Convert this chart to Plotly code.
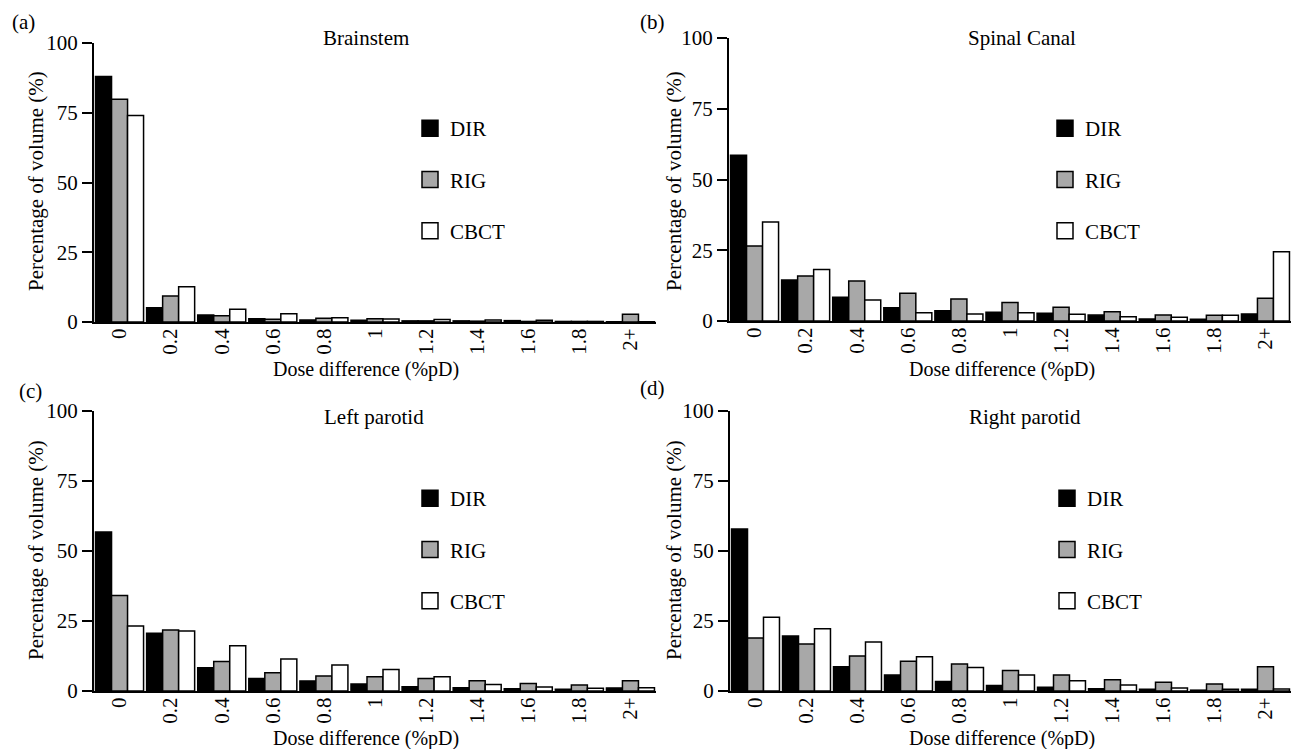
import plotly.graph_objects as go

# ---------------- data ----------------
categories = ["0", "0.2", "0.4", "0.6", "0.8", "1", "1.2", "1.4", "1.6", "1.8", "2+"]
series_names = ["DIR", "RIG", "CBCT"]
panel_titles = ["Brainstem", "Spinal Canal", "Left parotid", "Right parotid"]
panel_letters = ["(a)", "(b)", "(c)", "(d)"]
y_ticks = [0, 25, 50, 75, 100]

brainstem_dir = [88.0, 5.1, 2.5, 1.2, 0.7, 0.6, 0.4, 0.4, 0.5, 0.2, 0.1]
brainstem_rig = [79.8, 9.3, 2.2, 1.0, 1.3, 1.2, 0.4, 0.3, 0.2, 0.2, 2.8]
brainstem_cbct = [74.0, 12.6, 4.6, 3.0, 1.5, 1.1, 0.9, 0.7, 0.6, 0.2, 0.1]

spinal_dir = [58.6, 14.5, 8.4, 4.7, 3.6, 3.1, 2.7, 2.1, 0.7, 0.6, 2.5]
spinal_rig = [26.5, 15.9, 14.1, 9.8, 7.8, 6.5, 4.9, 3.3, 2.1, 2.0, 8.0]
spinal_cbct = [35.0, 18.2, 7.4, 2.9, 2.5, 2.9, 2.4, 1.5, 1.3, 2.0, 24.5]

lparotid_dir = [56.8, 20.6, 8.3, 4.5, 3.6, 2.5, 1.5, 1.2, 0.8, 0.6, 1.1]
lparotid_rig = [34.1, 21.8, 10.5, 6.5, 5.4, 5.1, 4.5, 3.7, 2.7, 2.1, 3.7]
lparotid_cbct = [23.2, 21.4, 16.2, 11.4, 9.3, 7.7, 5.1, 2.3, 1.4, 1.0, 1.2]

rparotid_dir = [57.9, 19.6, 8.7, 5.7, 3.4, 2.0, 1.3, 0.8, 0.6, 0.3, 0.6]
rparotid_rig = [18.9, 16.8, 12.5, 10.6, 9.6, 7.3, 5.7, 4.0, 3.1, 2.5, 8.7]
rparotid_cbct = [26.3, 22.2, 17.5, 12.2, 8.4, 5.7, 3.7, 2.1, 1.1, 0.6, 0.7]

panels = [
    [brainstem_dir, brainstem_rig, brainstem_cbct],
    [spinal_dir, spinal_rig, spinal_cbct],
    [lparotid_dir, lparotid_rig, lparotid_cbct],
    [rparotid_dir, rparotid_rig, rparotid_cbct],
]

# ---------------- style ----------------
W, H = 1291, 749
FONT = "Liberation Serif"
fills = ["#000000", "#a8a8a8", "#ffffff"]


def px(x):
    return x / W


def py(y):
    return 1 - y / H


# plot-area boxes in pixels: (left, right, y of 0, y of 100)
boxes = [
    (94, 656, 322, 43),
    (729, 1291, 321, 38),
    (94, 656, 691, 411),
    (730, 1291, 691, 411),
]
legend_pos = [(410, 108), (1045, 108), (410, 478), (1047, 478)]
title_pos = [(366, 38), (1022, 38), (374, 417), (1025, 417)]
letter_pos = [(23, 22), (652, 22), (30, 391), (652, 388)]
xtitle_pos = [(366, 369), (1002, 369), (366, 738), (1002, 738)]
ytitle_pos = [(36, 181), (674, 181), (36, 550), (674, 550)]

fig = go.Figure()
layout = dict(
    width=W,
    height=H,
    autosize=False,
    margin=dict(l=0, r=0, t=0, b=0, pad=0, autoexpand=False),
    paper_bgcolor="white",
    plot_bgcolor="white",
    barmode="group",
    bargap=0.06,
    bargroupgap=0,
    font=dict(family=FONT, size=21, color="black"),
    annotations=[],
)

for i, series in enumerate(panels):
    sfx = "" if i == 0 else str(i + 1)
    leg = "legend" if i == 0 else f"legend{i + 1}"
    for name, vals, col in zip(series_names, series, fills):
        fig.add_trace(
            go.Bar(
                x=categories,
                y=vals,
                name=name,
                xaxis="x" + sfx,
                yaxis="y" + sfx,
                marker=dict(color=col, line=dict(color="black", width=1.5)),
                showlegend=False,
                legendgroup=f"{i}_{name}",
                hoverinfo="x+y+name",
            )
        )
    # legend entries (square swatches, no data drawn)
    for name, col in zip(series_names, fills):
        fig.add_trace(
            go.Scatter(
                x=[None],
                y=[None],
                mode="markers",
                name=name,
                xaxis="x" + sfx,
                yaxis="y" + sfx,
                marker=dict(symbol="square", size=16, color=col,
                            line=dict(color="black", width=1.5)),
                legend=leg,
                legendgroup=f"{i}_{name}",
                showlegend=True,
                hoverinfo="skip",
            )
        )
    l, r, y0, y100 = boxes[i]
    layout["xaxis" + sfx] = dict(
        domain=[px(l), px(r)],
        anchor="y" + sfx,
        type="category",
        categoryorder="array",
        categoryarray=categories,
        range=[-0.5, len(categories) - 0.5],
        showline=True,
        linecolor="black",
        linewidth=2,
        ticks="",
        tickangle=-90,
        ticklabelstandoff=-4,
        showgrid=False,
        zeroline=False,
        automargin=False,
        tickfont=dict(family=FONT, size=21, color="black"),
    )
    layout["yaxis" + sfx] = dict(
        domain=[py(y0), py(y100)],
        anchor="x" + sfx,
        range=[0, 100],
        tickvals=y_ticks,
        showline=True,
        linecolor="black",
        linewidth=2,
        ticks="outside",
        ticklen=10,
        tickwidth=2,
        tickcolor="black",
        showgrid=False,
        zeroline=False,
        automargin=False,
        tickfont=dict(family=FONT, size=21, color="black"),
    )
    lx, ly = legend_pos[i]
    layout[leg] = dict(
        x=px(lx),
        y=py(ly),
        xanchor="left",
        yanchor="top",
        font=dict(family=FONT, size=21, color="black"),
        bgcolor="rgba(0,0,0,0)",
        tracegroupgap=21,
        traceorder="grouped",
        itemsizing="trace",
    )
    tx, ty = title_pos[i]
    layout["annotations"].append(dict(
        text=panel_titles[i], x=px(tx), y=py(ty), xref="paper", yref="paper",
        showarrow=False, xanchor="center", yanchor="middle",
        font=dict(family=FONT, size=21, color="black")))
    ax, ay = letter_pos[i]
    layout["annotations"].append(dict(
        text=panel_letters[i], x=px(ax), y=py(ay), xref="paper", yref="paper",
        showarrow=False, xanchor="center", yanchor="middle",
        font=dict(family=FONT, size=21, color="black")))
    xx, xy = xtitle_pos[i]
    layout["annotations"].append(dict(
        text="Dose difference (%pD)", x=px(xx), y=py(xy), xref="paper", yref="paper",
        showarrow=False, xanchor="center", yanchor="middle",
        font=dict(family=FONT, size=20, color="black")))
    yx, yy = ytitle_pos[i]
    layout["annotations"].append(dict(
        text="Percentage of volume (%)", x=px(yx), y=py(yy), xref="paper", yref="paper",
        showarrow=False, xanchor="center", yanchor="middle", textangle=-90,
        font=dict(family=FONT, size=21, color="black")))

fig.update_layout(**layout)
fig.write_html("out.html", config={"displayModeBar": False},
               post_script="document.body.style.margin='0';")
